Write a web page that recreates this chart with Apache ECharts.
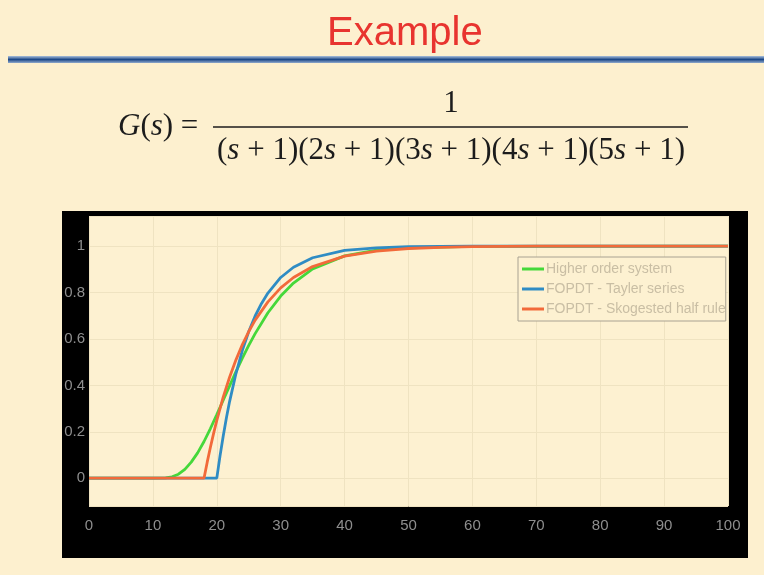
<!DOCTYPE html>
<html lang="en">
<head>
    <meta charset="UTF-8"/>
    <title>Example</title>
    <script src="https://cdn.jsdelivr.net/npm/echarts@6/dist/echarts.min.js"></script>
    <style>
        html, body { margin: 0; padding: 0; background: #fdf0cf; }
    </style>
</head>
<body>
<div id="main" style="width: 764px;height: 575px;"></div>
<script type="text/javascript">
    // step responses
    var greenT = [0, 10, 12, 13, 14, 15, 16, 17, 18, 19, 20, 21, 22, 23, 24, 25, 26, 28, 30, 32, 35, 40, 45, 50, 60, 100];
    var greenY = [0, 0, 0.001, 0.006, 0.017, 0.038, 0.069, 0.109, 0.158, 0.214, 0.274, 0.336, 0.398, 0.459, 0.517, 0.572, 0.623, 0.713, 0.785, 0.841, 0.902, 0.958, 0.983, 0.993, 0.999, 1];

    var blueT = [0, 20, 20.5, 21, 21.5, 22, 23, 24, 25, 26, 27, 28, 30, 32, 35, 40, 45, 50, 60, 100];
    var blueY = [0, 0, 0.095, 0.181, 0.259, 0.330, 0.451, 0.551, 0.632, 0.699, 0.753, 0.798, 0.865, 0.909, 0.950, 0.982, 0.993, 0.998, 1, 1];

    var orangeT = [0, 18, 18.5, 19, 19.5, 20, 21, 22, 23, 24, 25, 26, 28, 30, 32, 35, 40, 45, 50, 55, 60, 70, 100];
    var orangeY = [0, 0, 0.069, 0.133, 0.193, 0.249, 0.349, 0.435, 0.510, 0.576, 0.632, 0.681, 0.760, 0.820, 0.865, 0.912, 0.957, 0.979, 0.990, 0.995, 0.998, 1, 1];

    var seriesNames = ['Higher order system', 'FOPDT - Tayler series', 'FOPDT - Skogested half rule'];
    var xTicks = [0, 10, 20, 30, 40, 50, 60, 70, 80, 90, 100];
    var yTicks = [0, 0.2, 0.4, 0.6, 0.8, 1];

    function pairs(t, y) {
        var out = [];
        for (var i = 0; i < t.length; i++) out.push([t[i], y[i]]);
        return out;
    }

    var myChart = echarts.init(document.getElementById('main'));

    var serif = '"Liberation Serif", "DejaVu Serif", serif';
    var mathRich = {
        i: { fontFamily: serif, fontStyle: 'italic', fontSize: 31, fill: '#1c1c1c' },
        n: { fontFamily: serif, fontSize: 31, fill: '#1c1c1c' }
    };
    var tickFont = '"Liberation Sans", Arial, sans-serif';

    myChart.setOption({
        backgroundColor: '#fdf0cf',
        animation: false,
        title: {
            text: 'Example',
            left: 322,
            top: 9,
            textStyle: {
                color: '#e8342f',
                fontSize: 40,
                fontWeight: 'normal',
                fontFamily: '"Liberation Sans", Arial, sans-serif'
            }
        },
        graphic: [
            {
                type: 'rect',
                z: -10,
                shape: { x: 8, y: 56, width: 756, height: 7 },
                style: {
                    fill: new echarts.graphic.LinearGradient(0, 0, 0, 1, [
                        { offset: 0, color: '#a9c0dc' },
                        { offset: 0.5, color: '#1d4888' },
                        { offset: 1, color: '#8fa9cc' }
                    ])
                }
            },
            {
                type: 'text',
                style: {
                    x: 118, y: 127,
                    text: '{i|G}{n|(}{i|s}{n|) =}',
                    rich: mathRich,
                    align: 'left', verticalAlign: 'middle',
                    textAlign: 'left', textVerticalAlign: 'middle'
                }
            },
            {
                type: 'text',
                style: {
                    x: 451, y: 104,
                    text: '{n|1}',
                    rich: mathRich,
                    align: 'center', verticalAlign: 'middle',
                    textAlign: 'center', textVerticalAlign: 'middle'
                }
            },
            {
                type: 'line',
                shape: { x1: 213, y1: 127, x2: 688, y2: 127 },
                style: { stroke: '#1c1c1c', lineWidth: 1.5 }
            },
            {
                type: 'text',
                style: {
                    x: 451, y: 151,
                    text: '{n|(}{i|s}{n| + 1)(2}{i|s}{n| + 1)(3}{i|s}{n| + 1)(4}{i|s}{n| + 1)(5}{i|s}{n| + 1)}',
                    rich: mathRich,
                    align: 'center', verticalAlign: 'middle',
                    textAlign: 'center', textVerticalAlign: 'middle'
                }
            },
            {
                type: 'rect',
                z: -10,
                shape: { x: 62, y: 211, width: 686, height: 347 },
                style: { fill: '#000000' }
            }
        ],
        grid: {
            left: 89,
            top: 216,
            right: 36,
            bottom: 69,
            show: true,
            backgroundColor: '#fdf1d1',
            borderWidth: 0
        },
        legend: {
            data: seriesNames,
            orient: 'vertical',
            left: 518,
            top: 257,
            icon: 'rect',
            itemWidth: 22,
            itemHeight: 3,
            itemGap: 6,
            padding: [5, 0, 5, 4],
            backgroundColor: '#fdf1d1',
            borderColor: '#a9a292',
            borderWidth: 1,
            borderRadius: 0,
            textStyle: {
                color: '#c9bea4',
                fontSize: 14,
                padding: [0, 0, 0, -3],
                fontFamily: '"Liberation Sans", Arial, sans-serif'
            }
        },
        xAxis: {
            type: 'value',
            min: 0,
            max: 100,
            interval: 10,
            axisLine: { show: false },
            axisTick: { show: false },
            axisLabel: {
                color: '#8e8e8e',
                fontSize: 15,
                margin: 12,
                fontFamily: tickFont,
                formatter: function (v) { return xTicks.indexOf(v) >= 0 ? String(v) : ''; }
            },
            splitLine: { show: true, lineStyle: { color: '#efe3c1', width: 1 } }
        },
        yAxis: {
            type: 'value',
            min: -0.12,
            max: 1.13,
            splitNumber: 6,
            axisLine: { show: false },
            axisTick: { show: false },
            axisLabel: {
                color: '#8e8e8e',
                fontSize: 15,
                margin: 4,
                showMinLabel: false,
                showMaxLabel: false,
                fontFamily: tickFont,
                formatter: function (v) {
                    var r = Math.round(v * 10) / 10;
                    return (Math.abs(v - r) < 1e-6 && yTicks.indexOf(r) >= 0) ? String(r) : '';
                }
            },
            splitLine: { show: true, lineStyle: { color: '#efe3c1', width: 1 } }
        },
        series: [
            {
                name: seriesNames[0],
                type: 'line',
                showSymbol: false,
                lineStyle: { color: '#45d83a', width: 2.8 },
                itemStyle: { color: '#45d83a' },
                data: pairs(greenT, greenY)
            },
            {
                name: seriesNames[1],
                type: 'line',
                showSymbol: false,
                lineStyle: { color: '#2f8cc4', width: 2.8 },
                itemStyle: { color: '#2f8cc4' },
                data: pairs(blueT, blueY)
            },
            {
                name: seriesNames[2],
                type: 'line',
                showSymbol: false,
                lineStyle: { color: '#f26a3a', width: 2.8 },
                itemStyle: { color: '#f26a3a' },
                data: pairs(orangeT, orangeY)
            }
        ]
    });
</script>

</body>
</html>
